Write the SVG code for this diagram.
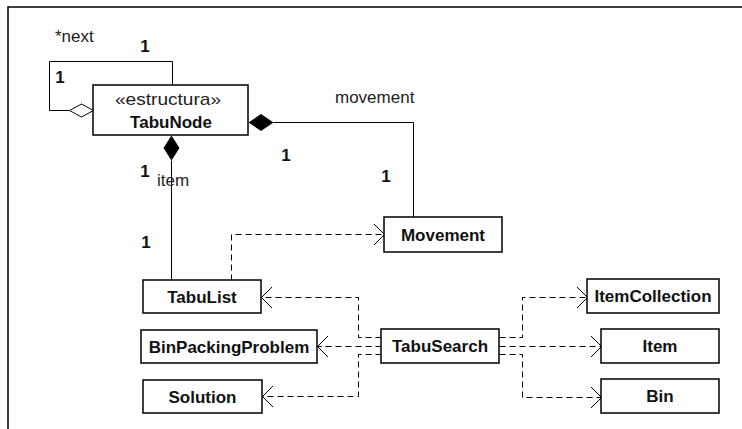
<svg xmlns="http://www.w3.org/2000/svg" width="742" height="429" viewBox="0 0 742 429">
<style>
  .box { fill: #fff; stroke: #000; stroke-width: 1.5; }
  .name { font-family: "Liberation Sans", Arial, sans-serif; font-size: 17px; font-weight: bold; fill: #111; text-anchor: middle; }
  .lbl { font-family: "Liberation Sans", Arial, sans-serif; font-size: 17px; fill: #222; }
  .mult { font-family: "Liberation Sans", Arial, sans-serif; font-size: 17px; font-weight: bold; fill: #111; text-anchor: middle; }
  .solid { fill: none; stroke: #000; stroke-width: 1; }
  .dash { fill: none; stroke: #000; stroke-width: 1; stroke-dasharray: 6 4; }
  .head { fill: none; stroke: #000; stroke-width: 1; }
</style>
<defs>
  <marker id="open" markerWidth="12" markerHeight="24" refX="11" refY="11.5" orient="auto" markerUnits="userSpaceOnUse">
    <path d="M0.5,1 L11,11.5 L0.5,22" class="head"/>
  </marker>
</defs>
<rect x="0" y="0" width="742" height="429" fill="#fff"/>
<path d="M8,429 L8,7 L742,7" fill="none" stroke="#000" stroke-width="1.5"/>

<g id="connectors" transform="translate(0.5,0.5)">
  <path class="solid" d="M69,110 L49,110 L49,61 L172,61 L172,85"/>
  <polygon points="69,110 81,103.5 93,110 81,116.5" fill="#fff" stroke="#000" stroke-width="1"/>
  <path class="solid" d="M273,122 L413,122 L413,217"/>
  <polygon points="248,122 260.5,113.5 273,122 260.5,130.5" fill="#000"/>
  <path class="solid" d="M171,160 L171,280"/>
  <polygon points="171,135 179,147.5 171,160 163,147.5" fill="#000"/>
  <path class="dash" d="M231,280 L231,234 L384,234" marker-end="url(#open)"/>
  <path class="dash" d="M381,337 L358,337 L358,297 L261,297" marker-end="url(#open)"/>
  <path class="dash" d="M381,346 L317,346" marker-end="url(#open)"/>
  <path class="dash" d="M381,354 L358,354 L358,396 L262,396" marker-end="url(#open)"/>
  <path class="dash" d="M499,337 L522,337 L522,297 L587,297" marker-end="url(#open)"/>
  <path class="dash" d="M499,346 L601,346" marker-end="url(#open)"/>
  <path class="dash" d="M499,354 L522,354 L522,397 L601,397" marker-end="url(#open)"/>
</g>

<g id="labels">
  <text class="lbl" x="55" y="42">*next</text>
  <text class="mult" x="145" y="52">1</text>
  <text class="mult" x="60" y="83">1</text>
  <text class="lbl" x="335" y="103">movement</text>
  <text class="mult" x="286" y="161">1</text>
  <text class="mult" x="386" y="182">1</text>
  <text class="mult" x="145" y="177">1</text>
  <text class="lbl" x="157" y="186">item</text>
  <text class="mult" x="146" y="248">1</text>
</g>

<g id="TabuNode">
  <rect class="box" x="93" y="85" width="155" height="50"/>
  <text class="lbl" x="168" y="105" text-anchor="middle" font-size="14" textLength="106" lengthAdjust="spacingAndGlyphs">«estructura»</text>
  <text class="name" x="171" y="128">TabuNode</text>
</g>
<g id="Movement">
  <rect class="box" x="384" y="217" width="118" height="35"/>
  <text class="name" x="443" y="241">Movement</text>
</g>
<g id="TabuList">
  <rect class="box" x="143" y="280" width="118" height="33"/>
  <text class="name" x="202" y="303">TabuList</text>
</g>
<g id="BinPackingProblem">
  <rect class="box" x="141" y="330" width="176" height="33"/>
  <text class="name" x="229" y="353">BinPackingProblem</text>
</g>
<g id="Solution">
  <rect class="box" x="143" y="380" width="119" height="33"/>
  <text class="name" x="202.5" y="403">Solution</text>
</g>
<g id="TabuSearch">
  <rect class="box" x="381" y="329" width="118" height="34"/>
  <text class="name" x="440" y="352">TabuSearch</text>
</g>
<g id="ItemCollection">
  <rect class="box" x="587" y="279" width="132" height="34"/>
  <text class="name" x="653" y="302">ItemCollection</text>
</g>
<g id="Item">
  <rect class="box" x="601" y="329" width="118" height="34"/>
  <text class="name" x="660" y="352">Item</text>
</g>
<g id="Bin">
  <rect class="box" x="601" y="379" width="118" height="34"/>
  <text class="name" x="660" y="402">Bin</text>
</g>
</svg>
